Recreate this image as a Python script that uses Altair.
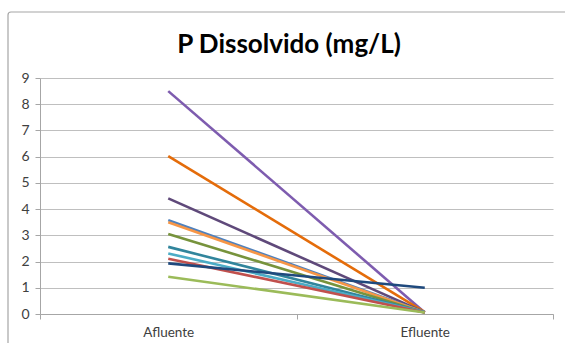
import altair as alt
import pandas as pd

categories = ["Afluente", "Efluente"]
series = ["S1", "S2", "S3", "S4", "S5", "S6", "S7", "S8", "S9", "S10", "S11"]
afluente = [8.50, 6.02, 4.41, 3.58, 3.50, 3.05, 2.56, 2.31, 2.11, 1.93, 1.42]
efluente = [0.06, 0.07, 0.06, 0.07, 0.06, 0.06, 0.07, 0.07, 0.06, 1.00, 0.06]
colors = ["#7E5CAF", "#E46C0A", "#5F497A", "#4F81BD", "#F79646", "#77933C",
          "#31859C", "#4BACC6", "#C0504D", "#1F497D", "#9BBB59"]
title_text = "P Dissolvido (mg/L)"

rows = []
for i, s in enumerate(series):
    rows.append({"serie": s, "cat": categories[0], "v": afluente[i], "o": i})
    rows.append({"serie": s, "cat": categories[1], "v": efluente[i], "o": i})
df = pd.DataFrame(rows)

W, H = 513, 236

border = alt.Chart(pd.DataFrame({"a": [0]})).mark_rect(
    fill=None, stroke="#A6A6A6", strokeWidth=1.2, cornerRadius=3
).encode(x=alt.value(-32), x2=alt.value(540), y=alt.value(-66), y2=alt.value(270))

title = alt.Chart(pd.DataFrame({"t": [title_text]})).mark_text(
    font="Lato", fontSize=26, fontWeight="bold", color="#000000",
    align="center", baseline="middle"
).encode(text="t:N", x=alt.value(249), y=alt.value(-33))

lines = alt.Chart(df).mark_line(strokeWidth=2.6).encode(
    x=alt.X("cat:N", sort=categories, bandPosition=0.5,
            scale=alt.Scale(type="band", paddingInner=0, paddingOuter=0),
            axis=alt.Axis(title=None, labelAngle=0, tickBand="extent", labelFontSize=13.5,
                          labelColor="#404040", labelPadding=6, domainColor="#A6A6A6",
                          tickColor="#A6A6A6", tickSize=5, labelFont="Lato")),
    y=alt.Y("v:Q", scale=alt.Scale(domain=[0, 9], nice=False),
            axis=alt.Axis(title=None, values=list(range(10)), tickCount=10,
                          gridColor="#BFBFBF", gridWidth=1.2, domainColor="#A6A6A6",
                          tickColor="#A6A6A6", tickSize=5, labelFontSize=14,
                          labelColor="#404040", labelPadding=6, labelFont="Lato")),
    color=alt.Color("serie:N", scale=alt.Scale(domain=series, range=colors), legend=None),
    order=alt.Order("o:Q"),
)

chart = alt.layer(border, title, lines).properties(
    width=W, height=H,
    autosize=alt.AutoSizeParams(type="none"),
    padding={"left": 40, "top": 78, "right": 12, "bottom": 29},
).configure_view(stroke=None).configure_axis(gridCap="butt")

chart.save("out.html", embed_options={"renderer": "svg", "actions": False})
